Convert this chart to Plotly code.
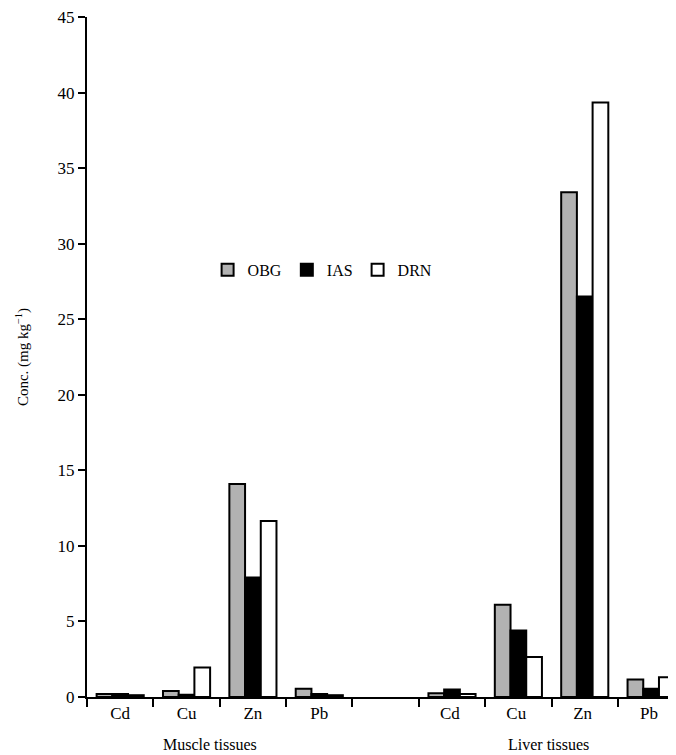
import plotly.graph_objects as go

elements = ["Cd", "Cu", "Zn", "Pb"]
tissues = ["Muscle tissues", "Liver tissues"]
series_names = ["OBG", "IAS", "DRN"]

muscle_obg = [0.2, 0.4, 14.1, 0.55]
muscle_ias = [0.2, 0.15, 7.9, 0.2]
muscle_drn = [0.12, 1.95, 11.65, 0.12]
liver_obg = [0.25, 6.1, 33.4, 1.15]
liver_ias = [0.5, 4.4, 26.5, 0.55]
liver_drn = [0.2, 2.65, 39.35, 1.3]

colors = ["#b2b2b2", "#000000", "#ffffff"]

# categories: muscle elements, blank spacer, liver elements (trailing space keeps them unique)
x_cats = elements + ["  "] + [e + " " for e in elements]

muscle = [muscle_obg, muscle_ias, muscle_drn]
liver = [liver_obg, liver_ias, liver_drn]

fig = go.Figure()
for i, name in enumerate(series_names):
    yvals = list(muscle[i]) + [None] + list(liver[i])
    fig.add_trace(go.Bar(
        x=x_cats, y=yvals, name=name,
        marker=dict(color=colors[i], line=dict(color="black", width=2)),
    ))

font_family = "Liberation Serif"
# page body has an 8px margin, so the figure is sized/offset to compensate
fig.update_layout(
    width=668, height=747,
    margin=dict(l=79, r=0, t=9, b=58, autoexpand=False),
    plot_bgcolor="white", paper_bgcolor="white",
    barmode="group", bargap=0.29, bargroupgap=0,
    font=dict(family=font_family, size=17, color="black"),
    showlegend=True,
    legend=dict(orientation="h", x=0.40, y=0.628, xanchor="center", yanchor="middle",
                font=dict(family=font_family, size=16, color="black"),
                itemwidth=30, tracegroupgap=0, bgcolor="rgba(0,0,0,0)"),
    xaxis=dict(
        type="category", range=[-0.5, 8.375], automargin=False,
        showline=True, linecolor="black", linewidth=2,
        ticks="outside", tickson="boundaries", ticklen=8, tickwidth=2, tickcolor="black",
        tickfont=dict(family=font_family, size=17, color="black"),
        showgrid=False, zeroline=False,
    ),
    yaxis=dict(
        range=[0, 45], tickvals=[0, 5, 10, 15, 20, 25, 30, 35, 40, 45], automargin=False,
        ticklabeloverflow="allow",
        showline=True, linecolor="black", linewidth=2,
        ticks="outside", ticklen=7, tickwidth=2, tickcolor="black",
        tickfont=dict(family=font_family, size=17, color="black"),
        showgrid=False, zeroline=False,
        title=dict(text="Conc. (mg kg<sup>−1</sup>)", standoff=25,
                   font=dict(family=font_family, size=15, color="black")),
    ),
)

for label, xpos in zip(tissues, [1.36, 6.46]):
    fig.add_annotation(x=xpos, y=0, xref="x", yref="paper", yanchor="top",
                       yshift=-37, text=label, showarrow=False,
                       font=dict(family=font_family, size=16, color="black"))

fig.write_html("out.html")
